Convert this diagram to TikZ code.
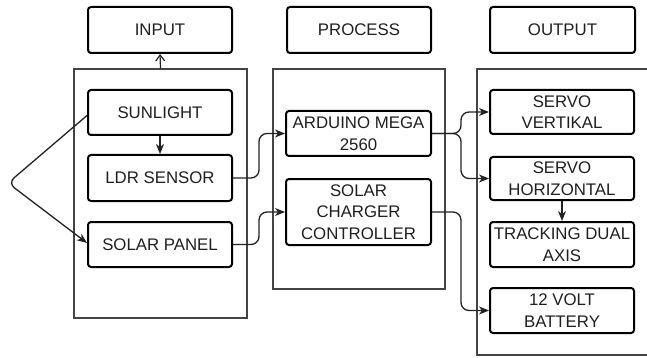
\documentclass[tikz,border=0pt]{standalone}
\usepackage{fontspec}
\setmainfont{Liberation Sans}
\usetikzlibrary{arrows.meta}
\definecolor{linec}{HTML}{222222}
\definecolor{contc}{HTML}{444444}
\begin{document}
\begin{tikzpicture}[x=1pt,y=-1pt,
  blk/.style={draw=black,line width=2pt,rounded corners=3pt,align=center,
    font=\fontsize{16.8}{21.5}\selectfont,inner sep=0pt,text=black!88},
  cont/.style={draw=contc,line width=1.2pt,inner sep=0pt},
  conn/.style={draw=linec,line width=1.3pt,rounded corners=8pt,
    -{Stealth[length=10pt,width=8pt,inset=3pt]}}]
\useasboundingbox (0,0) rectangle (647,358);
% containers
\node[cont,minimum width=173pt,minimum height=249pt] (cin) at (160.5,193.5) {};
\node[cont,line width=1.8pt,minimum width=172pt,minimum height=220pt] (cpr) at (359,179) {};
\node[cont,minimum width=175pt,minimum height=286pt] (cout) at (564.5,212) {};
% headers
\node[blk,minimum width=144pt,minimum height=46pt] (input) at (160,30) {INPUT};
\node[blk,minimum width=144pt,minimum height=46pt] (process) at (359,30) {PROCESS};
\node[blk,minimum width=145pt,minimum height=46pt] (output) at (562.5,30) {OUTPUT};
% input
\node[blk,minimum width=144pt,minimum height=45pt] (sun) at (160,112.5) {SUNLIGHT};
\node[blk,minimum width=144pt,minimum height=46pt] (ldr) at (160,178) {LDR SENSOR};
\node[blk,minimum width=144pt,minimum height=45pt] (panel) at (160,244.5) {SOLAR PANEL};
% process
\node[blk,minimum width=145pt,minimum height=45pt] (ard) at (358.5,133.5) {ARDUINO MEGA\\2560};
\node[blk,minimum width=145pt,minimum height=66pt] (scc) at (358.5,212) {SOLAR\\CHARGER\\CONTROLLER};
% output
\node[blk,minimum width=144pt,minimum height=44pt] (sv) at (562,112) {SERVO\\VERTIKAL};
\node[blk,minimum width=144pt,minimum height=43pt] (sh) at (562,178.5) {SERVO\\HORIZONTAL};
\node[blk,minimum width=144pt,minimum height=45pt] (track) at (562,244.5) {TRACKING DUAL\\AXIS};
\node[blk,minimum width=144pt,minimum height=45pt] (bat) at (562,310.5) {12 VOLT\\BATTERY};
% junction coordinates
\coordinate (apex) at (8,183);
\coordinate (j1) at (259,178);
\coordinate (j2) at (259,244.5);
\coordinate (j3) at (461,133.5);
\coordinate (j4) at (461,212);
% connectors
\draw[draw=linec,line width=1.2pt,-{Straight Barb[length=6pt,width=9pt]}] (cin.north) -- (input.south);
\draw[conn] (sun.south) -- (ldr.north);
\draw[conn] ([yshift=-3pt]sun.west) -- (apex) -- ([yshift=1.5pt]panel.west);
\draw[conn] (ldr.east) -- (j1) |- (ard.west);
\draw[conn] (panel.east) -- (j2) |- (scc.west);
\draw[conn] (ard.east) -- (j3) |- (sv.west);
\draw[conn] (ard.east) -- (j3) |- (sh.west);
\draw[conn] (scc.east) -- (j4) |- (bat.west);
\draw[conn] (sh.south) -- (track.north);
\end{tikzpicture}
\end{document}
